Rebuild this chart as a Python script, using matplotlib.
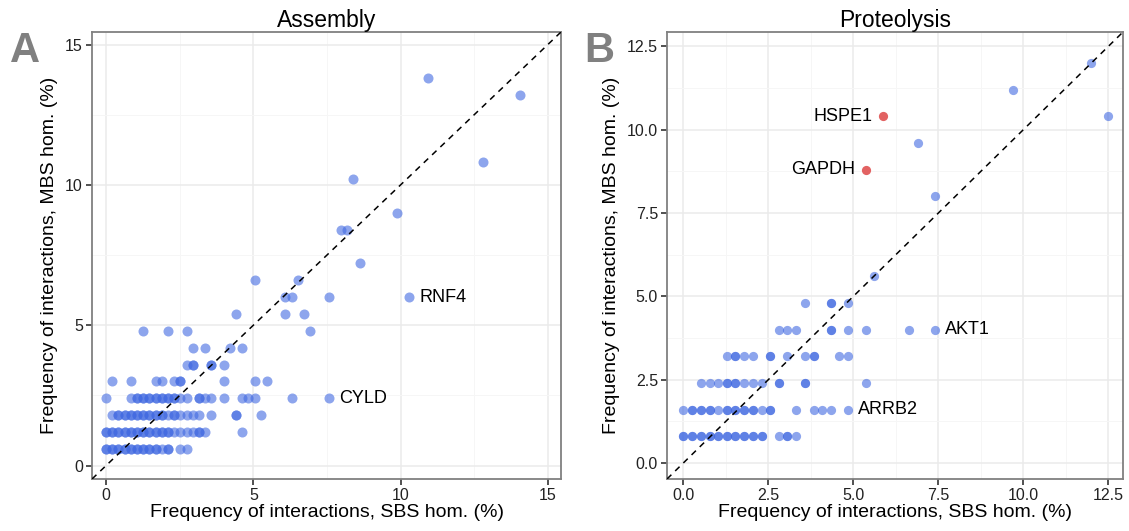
import numpy as np
import matplotlib
matplotlib.use('Agg')
from matplotlib import pyplot as plt
from matplotlib.ticker import MultipleLocator

plt.rcParams['font.family'] = ['Liberation Sans', 'DejaVu Sans']

## Assembly panel: MBS hom. levels (y) and the SBS hom. values (x) seen at each level
asm_levels = [0.6, 1.2, 1.8, 2.4, 3.0, 3.6, 4.2, 4.8, 5.4, 6.0, 6.6, 7.2, 8.4, 9.0,
              10.2, 10.8, 13.2, 13.8]
asm_sbs = [
    [0, 0, 0.21, 0.21, 0.42, 0.42, 0.63, 0.63, 0.84, 0.84, 1.05, 1.05, 1.26, 1.26,
     1.47, 1.47, 1.68, 1.68, 1.89, 2.1, 2.1, 2.52, 2.73],
    [0, 0, 0.21, 0.21, 0.42, 0.42, 0.63, 0.63, 0.84, 0.84, 1.05, 1.05, 1.26, 1.26,
     1.47, 1.47, 1.68, 1.68, 1.89, 1.89, 2.1, 2.1, 2.31, 2.52, 2.73, 2.94, 3.15, 3.15, 3.36, 4.62],
    [0.21, 0.42, 0.42, 0.63, 0.63, 0.84, 0.84, 1.05, 1.05, 1.26, 1.26, 1.47, 1.47,
     1.68, 1.68, 1.89, 1.89, 2.1, 2.31, 2.31, 2.52, 2.73, 2.94, 3.15, 3.57, 4.41, 4.41, 5.25],
    [0, 0.84, 1.05, 1.05, 1.26, 1.26, 1.47, 1.47, 1.68, 1.68, 1.89, 1.89, 2.1, 2.1,
     2.31, 2.31, 2.52, 2.73, 3.15, 3.15, 3.36, 3.57, 3.99, 4.62, 4.83, 5.04, 6.3, 7.56],
    [0.21, 0.84, 1.68, 1.89, 2.31, 2.52, 2.52, 3.99, 5.04, 5.46],
    [2.73, 2.94, 2.94, 3.57, 3.57, 3.99],
    [2.94, 3.36, 4.2, 4.62],
    [1.26, 2.1, 2.73, 6.93],
    [4.41, 6.09, 6.72],
    [6.09, 6.3, 7.56, 10.29],
    [5.04, 6.51],
    [8.61],
    [7.98, 8.19],
    [9.87],
    [8.4],
    [12.81],
    [14.07],
    [10.92],
]
asm_labels = {'RNF4': (10.29, 6.0), 'CYLD': (7.56, 2.4)}

## Proteolysis panel
pro_levels = [0.8, 1.6, 2.4, 3.2, 4.0, 4.8, 5.6, 8.0, 9.6, 10.4, 11.2, 12.0]
pro_sbs = [
    [0, 0, 0.26, 0.26, 0.51, 0.51, 0.77, 0.77, 1.02, 1.02, 1.28, 1.28, 1.53, 1.53,
     1.79, 1.79, 2.04, 2.04, 2.30, 2.30, 2.81, 3.06, 3.06, 3.32],
    [0, 0.26, 0.26, 0.51, 0.51, 0.77, 0.77, 1.02, 1.28, 1.28, 1.53, 1.53, 1.79, 1.79,
     2.04, 2.04, 2.30, 2.55, 2.55, 3.32, 3.83, 4.08, 4.34, 4.85],
    [0.51, 0.77, 1.02, 1.28, 1.28, 1.53, 1.53, 1.79, 2.04, 2.30, 2.81, 2.81, 3.57, 3.57, 5.36],
    [1.28, 1.53, 1.53, 1.79, 2.04, 2.55, 2.55, 3.06, 3.57, 3.83, 3.83, 4.59, 4.85],
    [2.81, 3.06, 3.32, 4.34, 4.34, 4.85, 5.36, 6.63, 7.40],
    [3.57, 4.34, 4.34, 4.85],
    [5.61],
    [7.40],
    [6.89],
    [12.50],
    [9.69],
    [11.99],
]
pro_red_sbs = [5.36, 5.87]
pro_red_mbs = [8.8, 10.4]
pro_labels_right = {'AKT1': (7.40, 4.0), 'ARRB2': (4.85, 1.6)}
pro_labels_left = {'HSPE1': (5.87, 10.4), 'GAPDH': (5.36, 8.8)}

blue = '#4169E1'
red = '#E26262'


def flatten(levels, rows):
    xs, ys = [], []
    for lev, row in zip(levels, rows):
        xs += row
        ys += [lev] * len(row)
    return xs, ys


fig = plt.figure(figsize=(11.29, 5.31), dpi=100)
axA = fig.add_axes([92 / 1129, 52 / 531, 469 / 1129, 447 / 531])
axB = fig.add_axes([667 / 1129, 52 / 531, 456 / 1129, 447 / 531])


def style(ax, major, minor, lim, fmt):
    ax.set_xlim(lim)
    ax.set_ylim(lim)
    ax.xaxis.set_major_locator(MultipleLocator(major))
    ax.yaxis.set_major_locator(MultipleLocator(major))
    ax.xaxis.set_minor_locator(MultipleLocator(minor))
    ax.yaxis.set_minor_locator(MultipleLocator(minor))
    ax.xaxis.set_major_formatter(fmt)
    ax.yaxis.set_major_formatter(fmt)
    ax.grid(which='major', color='#EBEBEB', lw=1.1, zorder=0)
    ax.grid(which='minor', color='#F6F6F6', lw=0.7, zorder=0)
    ax.set_axisbelow(True)
    ax.tick_params(which='major', length=4.5, width=1.1, color='#222222',
                   labelsize=11.5, labelcolor='#222222', pad=2)
    ax.tick_params(which='minor', length=0)
    for s in ax.spines.values():
        s.set_color('#808080')
        s.set_linewidth(1.3)
    ax.axline((0, 0), slope=1, color='black', lw=1.1, dashes=(4, 3.5), zorder=3)
    ax.set_xlabel('Frequency of interactions, SBS hom. (%)', fontsize=14, labelpad=1)
    ax.set_ylabel('Frequency of interactions, MBS hom. (%)', fontsize=14, labelpad=5)


style(axA, 5, 2.5, (-0.48, 15.45), lambda v, p: '%d' % v)
style(axB, 2.5, 1.25, (-0.48, 12.93), lambda v, p: '%.1f' % v)

ax_x, ax_y = flatten(asm_levels, asm_sbs)
axA.scatter(ax_x, ax_y, s=52, color=blue, alpha=0.6, lw=0, zorder=2)
for name, (x, y) in asm_labels.items():
    axA.annotate(name, (x, y), xytext=(10, 0), textcoords='offset pixels',
                 va='center', ha='left', fontsize=13)

bx_x, bx_y = flatten(pro_levels, pro_sbs)
axB.scatter(bx_x, bx_y, s=44, color=blue, alpha=0.6, lw=0, zorder=2)
axB.scatter(pro_red_sbs, pro_red_mbs, s=44, color=red, lw=0, zorder=2)
for name, (x, y) in pro_labels_right.items():
    axB.annotate(name, (x, y), xytext=(10, 0), textcoords='offset pixels',
                 va='center', ha='left', fontsize=13)
for name, (x, y) in pro_labels_left.items():
    axB.annotate(name, (x, y), xytext=(-10, 0), textcoords='offset pixels',
                 va='center', ha='right', fontsize=13)

axA.set_title('Assembly', fontsize=16.5, pad=3)
axB.set_title('Proteolysis', fontsize=16.5, pad=3)

fig.text(10 / 1129, 1 - 62 / 531, 'A', fontsize=30, fontweight='bold', color='#808080')
fig.text(584 / 1129, 1 - 62 / 531, 'B', fontsize=30, fontweight='bold', color='#808080')

fig.savefig('out.png', dpi=100)
